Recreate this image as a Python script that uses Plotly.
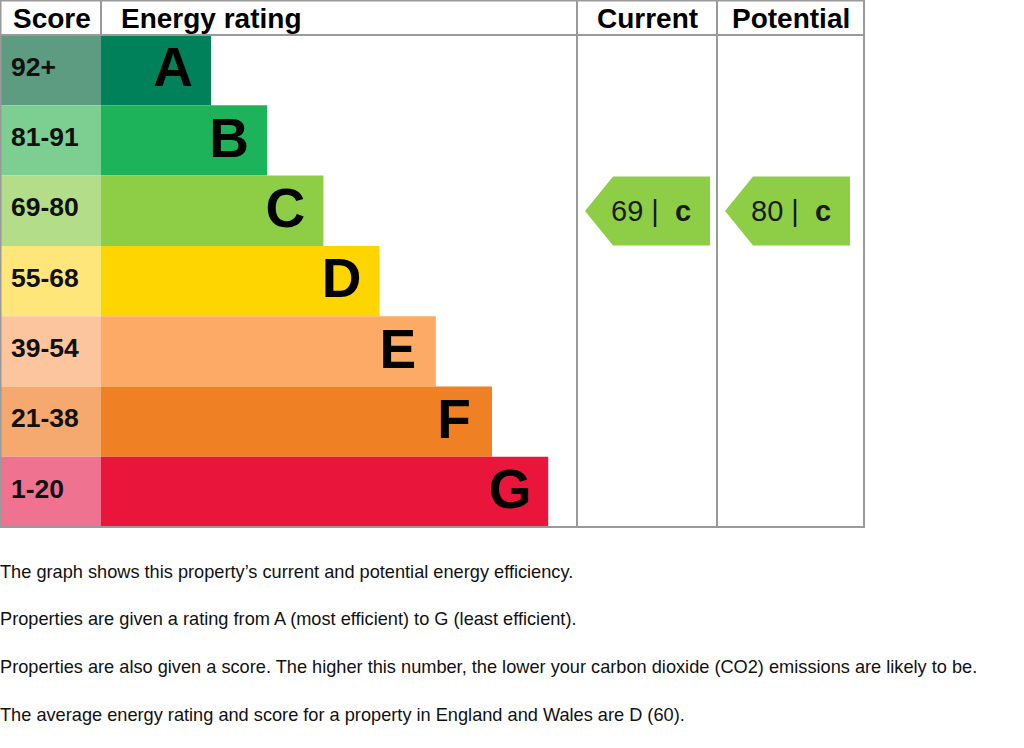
import plotly.graph_objects as go

# ---- data ----
bands = ["A", "B", "C", "D", "E", "F", "G"]
score_ranges = ["92+", "81-91", "69-80", "55-68", "39-54", "21-38", "1-20"]
band_min = [92, 81, 69, 55, 39, 21, 1]
bar_colors = ["#00815a", "#1cb35a", "#8dce46", "#ffd500", "#fcaa65", "#ef8024", "#e9153b"]
score_colors = ["#5d9c80", "#7ccf90", "#b3dd89", "#fee67b", "#fdc59d", "#f5a96f", "#ef7291"]
current_score = 69
potential_score = 80
headers = ["Score", "Energy rating", "Current", "Potential"]
notes = [
    "The graph shows this property\u2019s current and potential energy efficiency.",
    "Properties are given a rating from A (most efficient) to G (least efficient).",
    "Properties are also given a score. The higher this number, the lower your carbon dioxide (CO2) emissions are likely to be.",
    "The average energy rating and score for a property in England and Wales are D (60).",
]

# ---- layout geometry (pixel-like axis units) ----
W, H = 1024, 748
col_edges = [0, 101, 577, 717, 864]
header_h = 35
row_h = 70.3
first_len = 110
len_step = 56.2
arrow_len = 125
FONT = "Liberation Sans, Arial, sans-serif"
GRID = "#9a9a9a"

def band_of(score):
    for i, m in enumerate(band_min):
        if score >= m:
            return i
    return len(bands) - 1

centers = [header_h + row_h * (i + 0.5) for i in range(len(bands))]
lengths = [first_len + len_step * i for i in range(len(bands))]

fig = go.Figure()

# score column cells
fig.add_trace(go.Bar(
    y=centers, x=[col_edges[1] - col_edges[0]] * len(bands), base=col_edges[0],
    orientation="h", width=row_h, marker=dict(color=score_colors, line=dict(width=0)),
    hoverinfo="skip", showlegend=False,
))
# rating bars
fig.add_trace(go.Bar(
    y=centers, x=lengths, base=col_edges[1],
    orientation="h", width=row_h, marker=dict(color=bar_colors, line=dict(width=0)),
    hoverinfo="skip", showlegend=False,
))
# band letters
fig.add_trace(go.Scatter(
    x=[col_edges[1] + L - 38 for L in lengths], y=[c + 2.5 for c in centers],
    mode="text", text=bands,
    textfont=dict(family=FONT, size=55, color="black", weight="bold"),
    hoverinfo="skip", showlegend=False,
))
# score labels
fig.add_trace(go.Scatter(
    x=[11] * len(bands), y=[c - 1 for c in centers], mode="text", text=score_ranges,
    textposition="middle right",
    textfont=dict(family=FONT, size=26.5, color="#111111", weight="bold"),
    hoverinfo="skip", showlegend=False,
))

# current / potential arrows
for ci, sc in ((2, current_score), (3, potential_score)):
    b = band_of(sc)
    left = col_edges[ci]
    top = header_h + row_h * b + 1
    bot = header_h + row_h * (b + 1) - 0.5
    mid = (top + bot) / 2
    tip = left + 8
    body = tip + 28
    r = tip + arrow_len
    fig.add_trace(go.Scatter(
        x=[tip, body, r, r, body, tip], y=[mid, top, top, bot, bot, mid],
        mode="lines", fill="toself", fillcolor=bar_colors[b], line=dict(width=0, color=bar_colors[b]),
        hoverinfo="skip", showlegend=False,
    ))
    fig.add_annotation(
        x=tip + 24, y=mid, xref="x", yref="y",
        text=f"{sc} |\u00a0\u00a0<b>{bands[b].lower()}</b>", showarrow=False,
        font=dict(family=FONT, size=29, color="#1a1a1a"),
        xanchor="left", yanchor="middle",
    )

# headers
hx = [11, 119, (col_edges[2] + col_edges[3]) / 2, (col_edges[3] + col_edges[4]) / 2]
hanchor = ["left", "left", "center", "center"]
for t, x, a in zip(headers, hx, hanchor):
    fig.add_annotation(x=x, y=header_h / 2 + 1, xref="x", yref="y", text=f"<b>{t}</b>",
                       showarrow=False, xanchor=a, yanchor="middle",
                       font=dict(family=FONT, size=28, color="black"))

# notes
note_y = [572, 619, 667, 715]
for t, y in zip(notes, note_y):
    fig.add_annotation(x=0, y=y, xref="x", yref="y", text=t, showarrow=False,
                       xanchor="left", yanchor="middle", xshift=-2,
                       font=dict(family=FONT, size=18.2, color="#111111"))

# table lines
bottom = header_h + row_h * len(bands)
shapes = [
    dict(type="rect", x0=0.5, x1=col_edges[4], y0=0.5, y1=bottom, line=dict(color=GRID, width=2)),
    dict(type="line", x0=0, x1=col_edges[4], y0=header_h, y1=header_h, line=dict(color=GRID, width=2)),
    dict(type="line", x0=col_edges[1], x1=col_edges[1], y0=0, y1=header_h, line=dict(color=GRID, width=2)),
    dict(type="line", x0=col_edges[2], x1=col_edges[2], y0=0, y1=bottom, line=dict(color=GRID, width=2)),
    dict(type="line", x0=col_edges[3], x1=col_edges[3], y0=0, y1=bottom, line=dict(color=GRID, width=2)),
]

fig.update_layout(
    width=W, height=H, margin=dict(l=0, r=0, t=0, b=0),
    paper_bgcolor="white", plot_bgcolor="white",
    barmode="overlay", shapes=shapes,
    xaxis=dict(range=[0, W], visible=False, fixedrange=True),
    yaxis=dict(range=[H, 0], visible=False, fixedrange=True),
    showlegend=False,
)

fig.write_html("out.html")
